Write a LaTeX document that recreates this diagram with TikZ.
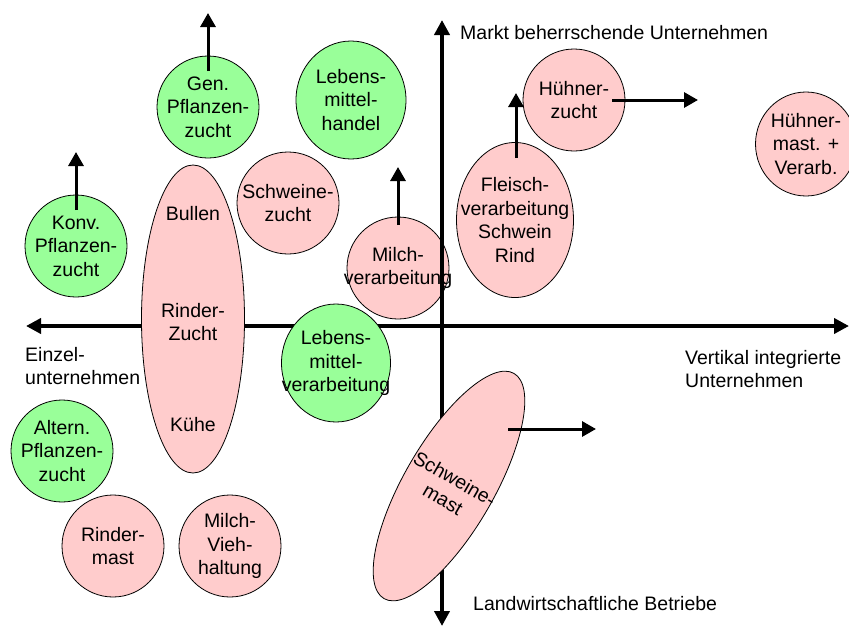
\documentclass[tikz,border=0pt]{standalone}
\usepackage{fontspec}
\setmainfont{Liberation Sans}
\usetikzlibrary{shapes.geometric,arrows.meta}
\definecolor{grn}{RGB}{153,255,153}
\definecolor{pnk}{RGB}{255,204,204}
\begin{document}
\begin{tikzpicture}[x=1pt,y=1pt,
  every node/.style={font=\fontsize{19.5}{23.5}\selectfont, align=center, inner sep=0pt},
  bub/.style={ellipse, draw=black, line width=0.8pt, inner sep=-60pt, minimum width=102pt, minimum height=102pt},
  gbub/.style={bub, fill=grn},
  pbub/.style={bub, fill=pnk},
  axisline/.style={line width=4pt, {Triangle[length=15pt,width=15pt]}-{Triangle[length=15pt,width=15pt]}},
  arr/.style={line width=3pt, -{Triangle[length=14pt,width=15pt]}},
  lbl/.style={anchor=west, align=left}
]
\useasboundingbox (0,0) rectangle (849,-627);

% circle that lies under the vertical axis
\node[pbub] (milchv) at (398,-268) {Milch-\\verarbeitung};

% axes
\coordinate (axL) at (26,-326);
\coordinate (axR) at (849,-326);
\coordinate (axT) at (442,-20);
\coordinate (axB) at (442,-626);
\draw[axisline] (axL) -- (axR);
\draw[axisline] (axT) -- (axB);

% axis labels
\node[lbl] (lmarkt) at (460,-33) {Markt beherrschende Unternehmen};
\node[lbl] (leinzel) at (25,-366) {Einzel-\\unternehmen};
\node[lbl] (lvert) at (685,-369) {Vertikal integrierte\\Unternehmen};
\node[lbl] (lland) at (473,-604) {Landwirtschaftliche Betriebe};

% green bubbles
\node[gbub] (genpf) at (208,-107) {Gen.\\Pflanzen-\\zucht};
\node[gbub, minimum width=110pt, minimum height=118pt] (lmhandel) at (351,-100) {Lebens-\\mittel-\\handel};
\node[gbub] (konvpf) at (76,-246) {Konv.\\Pflanzen-\\zucht};
\node[gbub, minimum width=109pt, minimum height=118pt] (lmverarb) at (336,-363) {Lebens-\\mittel-\\verarbeitung};
\node[gbub] (altpf) at (62,-451) {Altern.\\Pflanzen-\\zucht};

% pink bubbles
\node[pbub] (schwz) at (288,-203) {Schweine-\\zucht};
\node[pbub, minimum width=103pt, minimum height=308pt] (rinderz) at (193,-319) {};
\node (tbullen) at (193,-214) {Bullen};
\node (trinder) at (193,-322) {Rinder-\\Zucht};
\node (tkuehe) at (193,-425) {Kühe};
\node[pbub] (rmast) at (113,-546) {Rinder-\\mast};
\node[pbub] (mvieh) at (230,-546) {Milch-\\Vieh-\\haltung};
\node[pbub] (huehnz) at (574,-100) {Hühner-\\zucht};
\node[pbub, minimum width=117pt, minimum height=155pt] (fleisch) at (515,-220) {Fleisch-\\verarbeitung\\Schwein\\Rind};
\node[pbub, minimum width=101pt, minimum height=104pt] (huehnm) at (806,-144) {Hühner-\\mast. +\\Verarb.};
\node[pbub, minimum width=260pt, minimum height=90pt, rotate=60] (schwm) at (449,-486) {};
\node[rotate=-30] (tschwm) at (449,-489) {Schweine-\\mast};

% arrows
\coordinate (genpfT) at (208,-13);
\coordinate (konvpfT) at (76,-152);
\coordinate (milchvT) at (398,-167);
\coordinate (fleischT) at (516,-93);
\coordinate (huehnzT) at (698,-100);
\coordinate (schwmT) at (596,-429);
\draw[arr] ([yshift=36pt]genpf.center) -- (genpfT);
\draw[arr] ([yshift=36pt]konvpf.center) -- (konvpfT);
\draw[arr] ([yshift=43pt]milchv.center) -- (milchvT);
\draw[arr] ([xshift=1pt,yshift=62pt]fleisch.center) -- (fleischT);
\draw[arr] ([xshift=38pt]huehnz.center) -- (huehnzT);
\draw[arr] ([xshift=59pt,yshift=57pt]schwm.center) -- (schwmT);
\end{tikzpicture}
\end{document}
